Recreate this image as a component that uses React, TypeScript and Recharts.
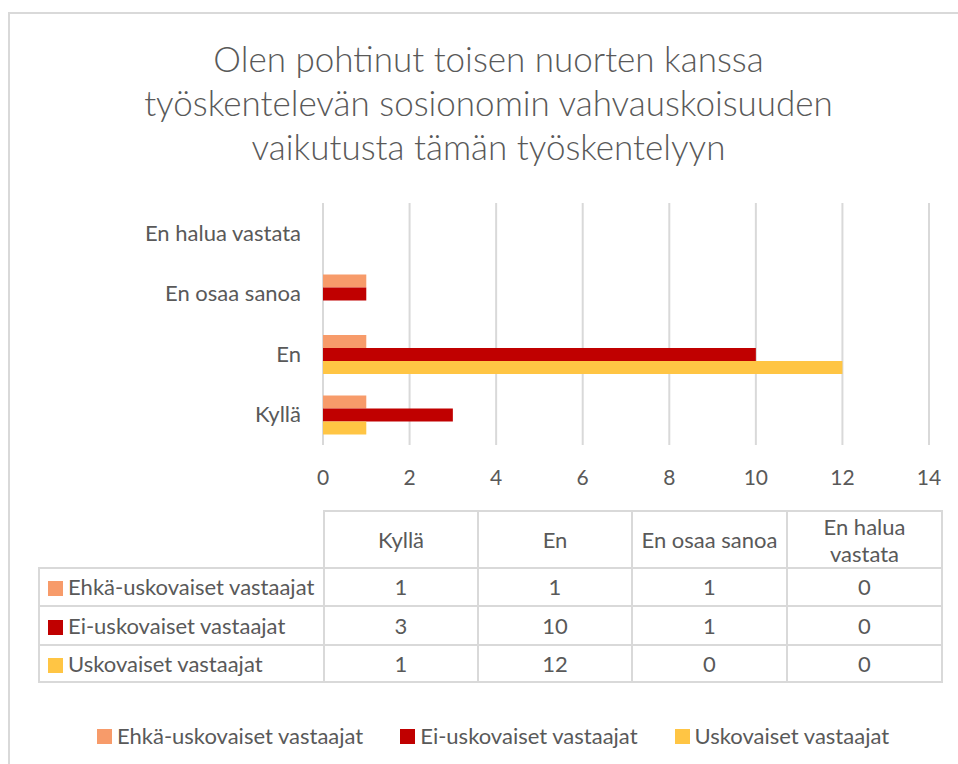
import React from 'react';
import { BarChart, Bar, XAxis, YAxis, CartesianGrid, Legend } from 'recharts';

const categories = ['Kyllä', 'En', 'En osaa sanoa', 'En halua vastata'];
const seriesNames = ['Ehkä-uskovaiset vastaajat', 'Ei-uskovaiset vastaajat', 'Uskovaiset vastaajat'];
const ehkaValues = [1, 1, 1, 0];
const eiValues = [3, 10, 1, 0];
const uskovaisetValues = [1, 12, 0, 0];
const xTicks = [0, 2, 4, 6, 8, 10, 12, 14];
const titleLines = [
  'Olen pohtinut toisen nuorten kanssa',
  'työskentelevän sosionomin vahvauskoisuuden',
  'vaikutusta tämän työskentelyyn',
];

const colors = ['#F79B6A', '#C00000', '#FFC544'];
const seriesValues = [ehkaValues, eiValues, uskovaisetValues];
const keys = ['ehka', 'ei', 'usk'];

const data = categories.map((c, i) => ({
  cat: c,
  ehka: ehkaValues[i],
  ei: eiValues[i],
  usk: uskovaisetValues[i],
}));

const FONT = 'Lato, "Open Sans", sans-serif';
const TEXT = '#595959';
const GRID = '#d9d9d9';
const FS = 22;

const XTick = (props: any) => {
  const { x, y, payload } = props;
  return (
    <text x={x} y={y} dy={40} textAnchor="middle" fill={TEXT} fontSize={21} fontFamily={FONT}>
      {payload.value}
    </text>
  );
};

const YTick = (props: any) => {
  const { x, y, payload } = props;
  return (
    <text x={x} y={y} dx={-22} dy={7.5} textAnchor="end" fill={TEXT} fontSize={FS} fontFamily={FONT}>
      {payload.value}
    </text>
  );
};

const LegendContent = () => (
  <div style={{ display: 'flex', justifyContent: 'center', gap: 37, fontFamily: FONT, fontSize: FS, color: TEXT, lineHeight: '24px' }}>
    {seriesNames.map((n, i) => (
      <div key={n} style={{ display: 'flex', alignItems: 'center' }}>
        <span style={{ width: 15, height: 15, background: colors[i], display: 'inline-block', marginRight: 5 }} />
        <span>{n}</span>
      </div>
    ))}
  </div>
);

const colW = [285, 154, 154, 155, 155];
const border = `2px solid ${GRID}`;

export default function App() {
  return (
    <div style={{ position: 'absolute', left: 0, top: 0, width: 958, height: 764, overflow: 'hidden', background: '#fff' }}>
      <div
        style={{
          position: 'absolute', left: 8, top: 12, width: 950, height: 752,
          borderLeft: border, borderTop: border, boxSizing: 'border-box',
        }}
      />
      <div
        style={{
          position: 'absolute', left: 20, top: 36, width: 937, textAlign: 'center',
          fontFamily: FONT, fontWeight: 300, fontSize: 35, lineHeight: '44px', color: TEXT,
        }}
      >
        {titleLines.map((l) => (
          <div key={l}>{l}</div>
        ))}
      </div>
      <div style={{ position: 'absolute', left: 0, top: 0 }}>
        <BarChart
          width={958}
          height={500}
          data={data}
          layout="vertical"
          margin={{ top: 203, right: 29, bottom: 25, left: 123 }}
          barSize={13}
          barGap={0}
        >
          <CartesianGrid horizontal={false} stroke={GRID} strokeWidth={2} />
          <XAxis
            type="number"
            domain={[0, 14]}
            ticks={xTicks}
            axisLine={false}
            tickLine={false}
            tickSize={0}
            tickMargin={0}
            height={30}
            tick={<XTick />}
            interval={0}
          />
          <YAxis
            type="category"
            dataKey="cat"
            reversed
            width={200}
            axisLine={false}
            tickLine={false}
            tickSize={0}
            tickMargin={0}
            tick={<YTick />}
            interval={0}
          />
          {keys.map((k, i) => (
            <Bar key={k} dataKey={k} name={seriesNames[i]} fill={colors[i]} isAnimationActive={false} />
          ))}
          <Legend
            layout="horizontal"
            verticalAlign="middle"
            align="center"
            content={<LegendContent />}
            wrapperStyle={{ position: 'absolute', top: 724, left: 14, width: 958, height: 24 }}
          />
        </BarChart>
      </div>
      <table
        style={{
          position: 'absolute', left: 38, top: 510, borderCollapse: 'collapse', tableLayout: 'fixed',
          fontFamily: FONT, fontSize: FS, color: TEXT, lineHeight: '24px',
        }}
      >
        <colgroup>
          {colW.map((w, i) => (
            <col key={i} style={{ width: w }} />
          ))}
        </colgroup>
        <tbody>
          <tr style={{ height: 57 }}>
            <td style={{ padding: 0 }} />
            {categories.map((c) => (
              <td key={c} style={{ border, textAlign: 'center', padding: '0 4px', lineHeight: '27px' }}>
                {c}
              </td>
            ))}
          </tr>
          {seriesNames.map((n, si) => (
            <tr key={n} style={{ height: [38, 39, 37][si] }}>
              <td style={{ border, padding: '0 0 0 8px', whiteSpace: 'nowrap' }}>
                <span style={{ display: 'inline-block', width: 15, height: 15, background: colors[si], marginRight: 5, verticalAlign: '-1px' }} />
                {n}
              </td>
              {seriesValues[si].map((v, ci) => (
                <td key={ci} style={{ border, textAlign: 'center', padding: 0 }}>
                  {v}
                </td>
              ))}
            </tr>
          ))}
        </tbody>
      </table>
    </div>
  );
}
